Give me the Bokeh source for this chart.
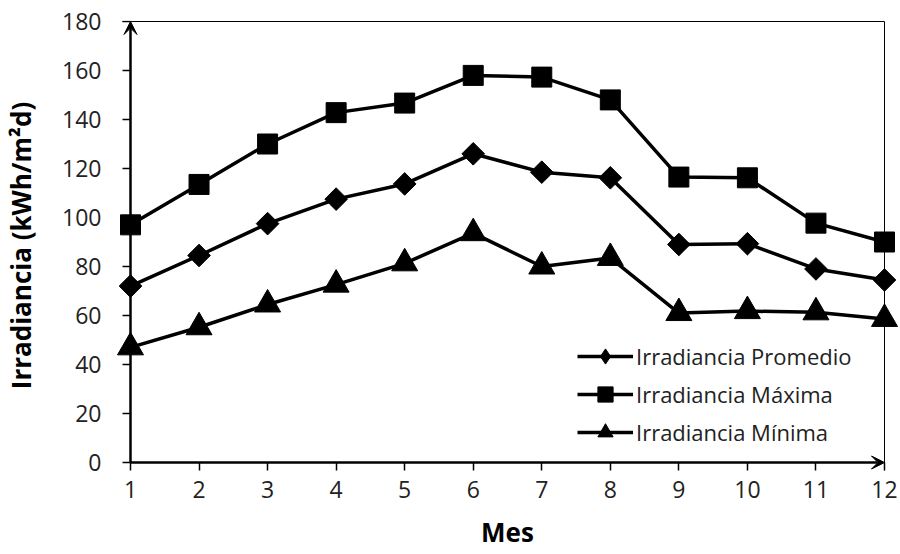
import numpy as np
from bokeh.plotting import figure
from bokeh.models import Range1d, FixedTicker, Arrow, VeeHead, Legend, LegendItem
from bokeh.embed import file_html
from bokeh.resources import INLINE

# Monthly irradiance (kWh/m2d)
meses = [1, 2, 3, 4, 5, 6, 7, 8, 9, 10, 11, 12]
promedio = [72, 84.5, 97.5, 107.5, 113.7, 126, 118.5, 116.2, 89, 89.3, 79, 74.5]
maxima = [97, 113.5, 130, 142.8, 146.7, 158, 157.3, 148, 116.5, 116.2, 97.7, 90]
minima = [47, 55.2, 64.5, 72.6, 81.3, 93.6, 80, 83.5, 61, 61.8, 61.3, 58.6]

y_ticks = [0, 20, 40, 60, 80, 100, 120, 140, 160, 180]
x_min, x_max = 1, 12
y_min, y_max = 0, 180

FONT = "Open Sans"

# pixel scale of the data area; the frame is a little larger so that
# markers, ticks and arrow heads at the edges are not cut off
PX_X = 754 / (x_max - x_min)
PX_Y = 441 / (y_max - y_min)
TICK = 8
PAD_L, PAD_R = 16, 16

x_tick_end = x_min - TICK / PX_X
y_tick_end = y_min - TICK / PX_Y

p = figure(width=900, height=554, output_backend="svg", toolbar_location=None,
           x_range=Range1d(x_min - PAD_L / PX_X, x_max + PAD_R / PX_X),
           y_range=Range1d(y_tick_end, y_max + 1 / PX_Y),
           min_border_left=114, min_border_right=0,
           min_border_top=20, min_border_bottom=84)
p.background_fill_color = "white"
p.border_fill_color = "white"
p.outline_line_color = None
p.xgrid.visible = False
p.ygrid.visible = False

for ax in (p.xaxis[0], p.yaxis[0]):
    ax.axis_line_color = None
    ax.minor_tick_line_color = None
    ax.major_label_text_font = FONT
    ax.major_label_text_font_size = "23px"
    ax.major_label_text_color = "#222222"
    ax.axis_label_text_font = FONT
    ax.axis_label_text_font_style = "bold"
    ax.axis_label_text_color = "black"
    ax.axis_label_text_font_size = "26px"

# x ticks: drawn upward from the frame edge to the axis line
p.xaxis.ticker = FixedTicker(ticks=meses)
p.xaxis.major_tick_line_width = 1.5
p.xaxis.major_tick_line_color = "black"
p.xaxis.major_tick_out = 0
p.xaxis.major_tick_in = TICK
p.xaxis.major_label_standoff = 10
p.xaxis.axis_label = "Mes"
p.xaxis.axis_label_standoff = 13

# y ticks are drawn as segments next to the axis line
p.yaxis.ticker = FixedTicker(ticks=y_ticks)
p.yaxis.major_tick_line_color = None
p.yaxis.major_label_standoff = 7
p.yaxis.axis_label = "Irradiancia (kWh/m\u00b2d)"
p.yaxis.axis_label_standoff = 20

p.segment(x0=[x_tick_end] * len(y_ticks), y0=y_ticks,
          x1=[x_min] * len(y_ticks), y1=y_ticks,
          line_color="black", line_width=1.5)

# thin plot-area border on top and right
p.line([x_tick_end, x_max], [y_max, y_max], line_color="black", line_width=1)
p.line([x_max, x_max], [y_tick_end, y_max], line_color="black", line_width=1)

# axis lines with arrow heads
p.add_layout(Arrow(x_start=x_min, y_start=y_min, x_end=x_max, y_end=y_min, line_width=2.5,
                   end=VeeHead(size=13, fill_color="black", line_color="black", line_width=1)))
p.add_layout(Arrow(x_start=x_min, y_start=y_min, x_end=x_min, y_end=y_max, line_width=2.5,
                   end=VeeHead(size=13, fill_color="black", line_color="black", line_width=1)))

lw = 3.5
l1 = p.line(meses, promedio, line_color="black", line_width=lw)
s1 = p.scatter(meses, promedio, marker="square", angle=np.pi / 4, size=16,
               fill_color="black", line_color="black")
l2 = p.line(meses, maxima, line_color="black", line_width=lw)
s2 = p.scatter(meses, maxima, marker="square", size=20,
               fill_color="black", line_color="black")
l3 = p.line(meses, minima, line_color="black", line_width=lw)
s3 = p.scatter(meses, minima, marker="triangle", size=26,
               fill_color="black", line_color="black")

# legend swatch for the diamond marker (no data of its own)
d1 = p.scatter([np.nan], [np.nan], marker="diamond", size=20,
               fill_color="black", line_color="black")

legend = Legend(items=[
    LegendItem(label="Irradiancia Promedio", renderers=[l1, d1]),
    LegendItem(label="Irradiancia M\u00e1xima", renderers=[l2, s2]),
    LegendItem(label="Irradiancia M\u00ednima", renderers=[l3, s3]),
], location=(463, 19))
legend.border_line_color = None
legend.background_fill_alpha = 0
legend.label_text_font = FONT
legend.label_text_font_size = "22px"
legend.label_text_color = "#222222"
legend.glyph_width = 56
legend.glyph_height = 38
legend.label_height = 38
legend.spacing = 0
legend.label_standoff = 3
legend.padding = 0
legend.margin = 0
p.add_layout(legend)

open("out.html", "w").write(file_html(p, INLINE))
